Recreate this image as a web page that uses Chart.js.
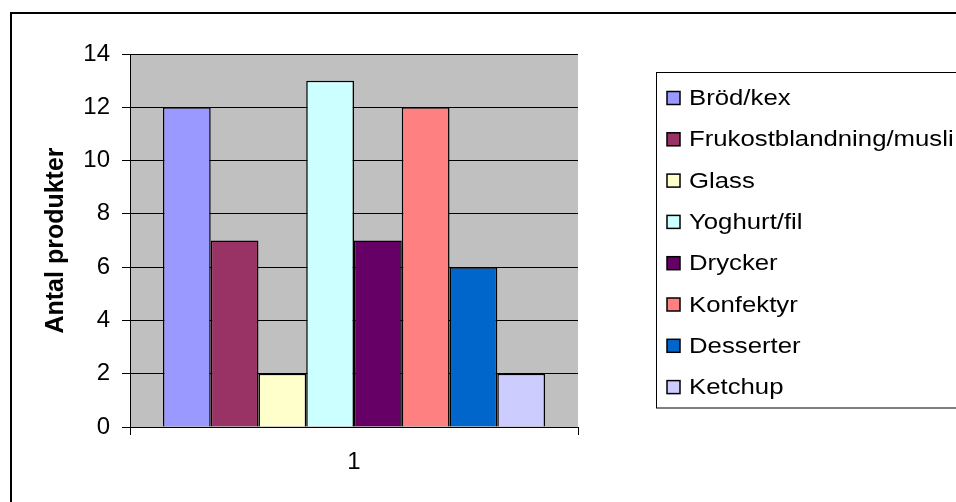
<!DOCTYPE html>
<html>
<head>
<meta charset="utf-8">
<script src="https://cdn.jsdelivr.net/npm/chart.js@4/dist/chart.umd.min.js"></script>
<style>
  html, body { margin: 0; padding: 0; background: #fff; }
  canvas { display: block; }
</style>
</head>
<body>
<canvas id="productChart" width="956" height="502"></canvas>
<script>
var categories = ['1'];
var seriesNames = ['Bröd/kex', 'Frukostblandning/musli', 'Glass', 'Yoghurt/fil', 'Drycker', 'Konfektyr', 'Desserter', 'Ketchup'];
var seriesValues = [12, 7, 2, 13, 7, 12, 6, 2];
var seriesColors = ['#9999FF', '#993366', '#FFFFCC', '#CCFFFF', '#660066', '#FF8080', '#0066CC', '#CCCCFF'];
var yMin = 0, yMax = 14, yStep = 2;
var yTitle = 'Antal produkter';

var font = "'Liberation Sans', Arial, sans-serif";

// plot background, outer frame and the Excel style legend box
var excelFrame = {
    id: 'excelFrame',
    beforeDraw: function (chart) {
        var ctx = chart.ctx, a = chart.chartArea;
        ctx.save();
        ctx.fillStyle = '#fff';
        ctx.fillRect(0, 0, chart.width, chart.height);
        ctx.fillStyle = '#C0C0C0';
        ctx.fillRect(a.left, a.top, a.right - a.left, a.bottom - a.top);
        ctx.restore();
    },
    afterDraw: function (chart) {
        var ctx = chart.ctx;
        ctx.save();
        ctx.strokeStyle = '#000';
        ctx.lineWidth = 2;
        ctx.strokeRect(11, 13, 2000, 2000);

        ctx.lineWidth = 1;
        ctx.strokeRect(656.5, 72.5, 1000, 335.5);

        ctx.font = '22px ' + font;
        ctx.textBaseline = 'middle';
        chart.data.datasets.forEach(function (ds, i) {
            var y = 98 + i * 41.3;
            ctx.fillStyle = ds.backgroundColor;
            ctx.fillRect(667, y - 6.5, 13, 13);
            ctx.lineWidth = 1.5;
            ctx.strokeRect(667, y - 6.5, 13, 13);
            ctx.save();
            ctx.translate(689, y);
            ctx.scale(1.17, 1);
            ctx.fillStyle = '#000';
            ctx.fillText(ds.label, 0, 1);
            ctx.restore();
        });
        ctx.restore();
    }
};

var ctx = document.getElementById('productChart').getContext('2d');
var productChart = new Chart(ctx, {
    type: 'bar',
    data: {
        labels: categories,
        datasets: seriesNames.map(function (name, i) {
            return {
                label: name,
                data: [seriesValues[i]],
                backgroundColor: seriesColors[i],
                borderColor: '#000',
                borderWidth: 1.5,
                borderSkipped: 'start',
                categoryPercentage: 0.853,
                barPercentage: 1
            };
        })
    },
    options: {
        responsive: false,
        animation: false,
        devicePixelRatio: 1,
        layout: { padding: { left: 0, top: 54, right: 378, bottom: 0 } },
        plugins: {
            legend: { display: false },
            tooltip: { enabled: false }
        },
        scales: {
            x: {
                afterFit: function (s) { s.height = 75; },
                grid: { offset: true, drawOnChartArea: false, drawTicks: true, tickLength: 8, color: '#000' },
                border: { display: true, color: '#000', width: 1 },
                ticks: { color: '#000', padding: 13, font: { family: font, size: 24 } }
            },
            y: {
                min: yMin,
                max: yMax,
                afterFit: function (s) { s.width = 130; },
                ticks: { stepSize: yStep, color: '#000', padding: 12, font: { family: font, size: 24 } },
                grid: { color: '#000', tickLength: 8, drawTicks: true },
                border: { display: true, color: '#000', width: 1 },
                title: {
                    display: true,
                    text: yTitle,
                    color: '#000',
                    padding: { top: 41, bottom: 0 },
                    font: { family: font, size: 25, weight: 'bold' }
                }
            }
        }
    },
    plugins: [excelFrame]
});
</script>
</body>
</html>
